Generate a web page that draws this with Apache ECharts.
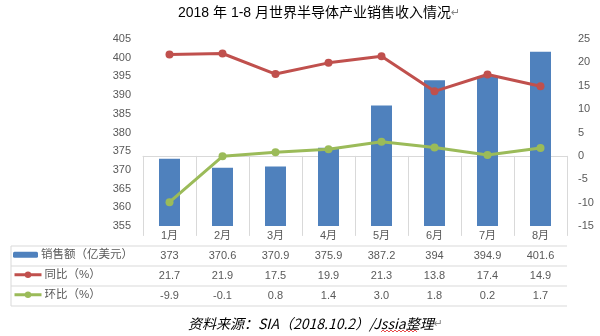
<!DOCTYPE html>
<html>
<head>
<meta charset="utf-8">
<script src="https://cdn.jsdelivr.net/npm/echarts@6/dist/echarts.min.js"></script>
<style>html,body{margin:0;padding:0;background:#fff}#c{width:600px;height:336px}</style>
</head>
<body>
<div id="c"></div>
<script>
const months = ['1月','2月','3月','4月','5月','6月','7月','8月'];
const sales = [373, 370.6, 370.9, 375.9, 387.2, 394, 394.9, 401.6];
const yoy = [21.7, 21.9, 17.5, 19.9, 21.3, 13.8, 17.4, 14.9];
const mom = [-9.9, -0.1, 0.8, 1.4, 3.0, 1.8, 0.2, 1.7];
const seriesNames = ['销售额（亿美元）', '同比（%）', '环比（%）'];
const titleText = '2018 年 1-8 月世界半导体产业销售收入情况';
const sourceText = '资料来源：SIA（2018.10.2）/Jssia整理';

const FONT = '"Liberation Sans","Noto Sans CJK SC",sans-serif';
const GREY = '#595959';
const LINE = '#d9d9d9';
const BLUE = '#4f81bd', RED = '#c0504d', GREEN = '#9bbb59';

const gridLeft = 143, gridRight = 567, axisY = 226;
const rowLines = [246, 266, 286, 306];

function rowAxis(labels, offset) {
  return {
    type: 'category', gridIndex: 0, position: 'bottom', offset: offset,
    data: labels,
    axisLine: {show: false}, axisTick: {show: false},
    axisLabel: {color: GREY, fontSize: 11, fontFamily: FONT, margin: 4}
  };
}

const graphics = [];
rowLines.forEach(y => graphics.push({
  type: 'line', shape: {x1: 11, y1: y, x2: gridRight, y2: y},
  style: {stroke: LINE, lineWidth: 1}, silent: true
}));
graphics.push({type: 'line', shape: {x1: 11, y1: rowLines[0], x2: 11, y2: rowLines[3]},
  style: {stroke: LINE, lineWidth: 1}, silent: true});
graphics.push({
  type: 'text', left: 178, top: 6,
  style: {
    text: '{t|' + titleText + '}{m|↵}',
    rich: {
      t: {fontSize: 14, fontFamily: FONT, fill: '#000'},
      m: {fontSize: 11, fontFamily: '"DejaVu Sans"', fill: '#888'}
    }
  }
});
graphics.push({
  type: 'text', left: 188, top: 317,
  style: {
    text: '{t|' + sourceText + '}{m|↵}',
    rich: {
      t: {fontSize: 14, fontFamily: '"Noto Sans CJK SC",sans-serif', fontStyle: 'italic', fill: '#000'},
      m: {fontSize: 11, fontFamily: '"DejaVu Sans"', fill: '#888'}
    }
  }
});
// spell-check wavy underline under "Jssia"
(function () {
  const pts = [];
  for (let x = 381, i = 0; x <= 417; x += 2, i++) pts.push([x, i % 2 ? 330 : 332]);
  graphics.push({type: 'polyline', shape: {points: pts}, style: {stroke: '#e02020', lineWidth: 0.8, fill: null}, silent: true});
})();

function legend(name, top, iw, ih) {
  return {
    data: [name], left: 13, top: top, padding: 0, itemWidth: iw, itemHeight: ih,
    selectedMode: false,
    lineStyle: {width: 3},
    textStyle: {color: GREY, fontSize: 11.5, fontFamily: FONT, padding: [0, 0, 0, -2]}
  };
}

const chart = echarts.init(document.getElementById('c'), null, {renderer: 'canvas'});
chart.setOption({
  animation: false,
  backgroundColor: '#fff',
  grid: {left: gridLeft, right: 600 - gridRight, top: 39, bottom: 336 - axisY},
  legend: [
    legend(seriesNames[0], 249, 25, 6),
    legend(seriesNames[1], 269, 27, 8),
    legend(seriesNames[2], 289, 27, 8)
  ],
  xAxis: [
    {
      type: 'category', data: months, gridIndex: 0, position: 'bottom',
      axisLine: {show: true, lineStyle: {color: LINE}},
      axisTick: {show: true, length: rowLines[3] - axisY, lineStyle: {color: LINE}},
      axisLabel: {color: GREY, fontSize: 11, fontFamily: FONT, margin: 4}
    },
    rowAxis(sales.map(v => String(v)), 20),
    rowAxis(yoy.map(v => v.toFixed(1)), 40),
    rowAxis(mom.map(v => v.toFixed(1)), 60)
  ],
  yAxis: [
    {
      type: 'value', min: 355, max: 405, interval: 5,
      axisLine: {show: false}, axisTick: {show: false}, splitLine: {show: false},
      axisLabel: {color: GREY, fontSize: 11, fontFamily: FONT, margin: 12}
    },
    {
      type: 'value', min: -15, max: 25, interval: 5, position: 'right',
      axisLine: {show: false}, axisTick: {show: false}, splitLine: {show: false},
      axisLabel: {color: GREY, fontSize: 11, fontFamily: FONT, margin: 11}
    }
  ],
  series: [
    {
      name: seriesNames[0], type: 'bar', data: sales, xAxisIndex: 0, yAxisIndex: 0,
      barWidth: 21, itemStyle: {color: BLUE}
    },
    {
      name: seriesNames[1], type: 'line', data: yoy, xAxisIndex: 0, yAxisIndex: 1,
      symbol: 'circle', symbolSize: 8, itemStyle: {color: RED},
      lineStyle: {color: RED, width: 3}
    },
    {
      name: seriesNames[2], type: 'line', data: mom, xAxisIndex: 0, yAxisIndex: 1,
      symbol: 'circle', symbolSize: 8, itemStyle: {color: GREEN},
      lineStyle: {color: GREEN, width: 3}
    }
  ],
  graphic: graphics
});
</script>
</body>
</html>
